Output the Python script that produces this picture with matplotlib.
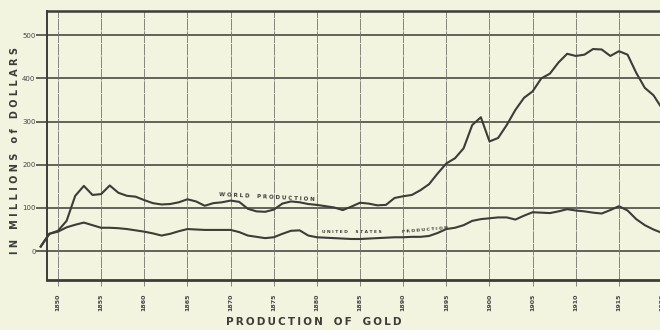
import matplotlib.pyplot as plt
import numpy as np

# annual gold output, millions of dollars
years = list(range(1848, 1921))
world = [11, 40, 47, 70, 128, 151, 130, 132, 152, 135,
         128, 126, 118, 111, 108, 109, 113, 120, 115, 105,
         111, 113, 117, 114, 98, 92, 91, 96, 110, 115,
         113, 109, 107, 104, 101, 95, 103, 112, 110, 106,
         107, 123, 127, 130, 141, 155, 180, 203, 215, 238,
         292, 310, 254, 262, 292, 327, 355, 370, 400, 411,
         437, 457, 452, 455, 468, 467, 452, 463, 455, 413,
         378, 361, 330]
united_states = [10, 40, 45, 55, 61, 66, 60, 54, 54, 53,
                 51, 48, 45, 41, 36, 40, 46, 51, 50, 49,
                 49, 49, 49, 44, 36, 33, 30, 32, 40, 47,
                 48, 36, 32, 31, 30, 29, 28, 28, 29, 30,
                 31, 32, 32, 33, 33, 35, 42, 51, 54, 60,
                 70, 74, 76, 78, 78, 73, 82, 90, 89, 88,
                 92, 97, 94, 92, 89, 87, 95, 104, 94, 74,
                 60, 50, 42]

y_ticks = [0, 100, 200, 300, 400, 500]
x_ticks = list(range(1850, 1921, 5))

paper = "#f2f4e0"
ink = "#3c3c38"

fig = plt.figure(figsize=(6.6, 3.3), dpi=100, facecolor=paper)
ax = fig.add_axes([0.0707, 0.1515, 0.9364, 0.815])
ax.set_facecolor(paper)

ax.set_xlim(1848.69, 1920.3)
ax.set_ylim(-67, 556)

# ruled grid
for v in y_ticks:
    ax.axhline(v, color="#4a4a46", lw=1.2, zorder=1)
for yr in x_ticks:
    ax.axvline(yr, color="#74746e", lw=0.6, dashes=(14, 1), zorder=1)

ax.plot(years, world, color=ink, lw=1.5, clip_on=False, zorder=3)
ax.plot(years, united_states, color=ink, lw=1.5, clip_on=False, zorder=3)

ax.spines["right"].set_visible(False)
ax.spines["top"].set_linewidth(1.8)
ax.spines["bottom"].set_linewidth(2.0)
ax.spines["left"].set_linewidth(1.4)
for s in ax.spines.values():
    s.set_color(ink)

ax.set_yticks(y_ticks)
ax.set_yticklabels([str(v) for v in y_ticks], fontsize=5, color="#444")
ax.tick_params(axis="y", direction="out", length=8, width=1.2,
               color="#4a4a46", pad=0)
ax.set_xticks(x_ticks)
ax.set_xticklabels([str(v) for v in x_ticks], fontsize=4.5, rotation=90,
                   color="#444", fontweight="bold")
ax.tick_params(axis="x", direction="out", length=4, width=0.6,
               color="#74746e", pad=6)

ax.text(1868.6, 126, "W O R L D    P R O D U C T I O N", fontsize=4,
        color=ink, rotation=-3, ha="left", va="center", fontweight="bold")
ax.text(1880.6, 45, "U N I T E D     S T A T E S", fontsize=3.2,
        color=ink, ha="left", va="center", fontweight="bold")
ax.text(1892.5, 50, "P R O D U C T I O N", fontsize=3.2,
        color=ink, rotation=5, ha="center", va="center", fontweight="bold")

fig.text(0.022, 0.545, "I N   M I L L I O N S   o f   D O L L A R S",
         rotation=90, fontsize=7, color=ink, ha="center", va="center",
         fontweight="bold")
fig.text(0.476, 0.025, "P\u2009R\u2009O\u2009D\u2009U\u2009C\u2009T\u2009I\u2009O\u2009N   O\u2009F   G\u2009O\u2009L\u2009D",
         fontsize=7.5, color=ink, ha="center", va="center",
         fontweight="bold")

fig.savefig("out.png", dpi=100, facecolor=paper)
